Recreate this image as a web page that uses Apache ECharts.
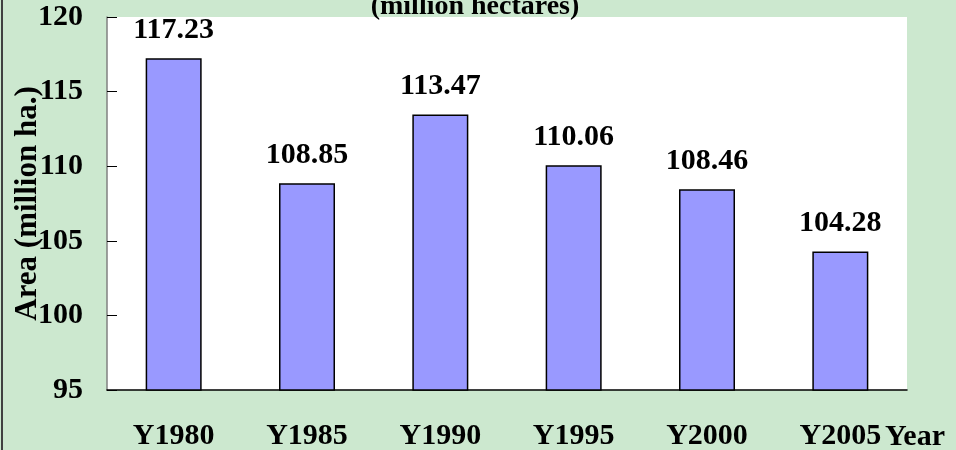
<!DOCTYPE html>
<html><head><meta charset="utf-8">
<script src="https://cdn.jsdelivr.net/npm/echarts@6/dist/echarts.min.js"></script>
<style>html,body{margin:0;padding:0;}#c{width:956px;height:450px;}</style>
</head><body><div id="c"></div>
<script>
const categories = ['Y1980','Y1985','Y1990','Y1995','Y2000','Y2005'];
const areaValues = [117.23, 108.85, 113.47, 110.06, 108.46, 104.28];
const titleText = '(million hectares)';
const yAxisName = 'Area (million ha.)';
const xAxisName = 'Year';

const FONT = '"Liberation Serif","Times New Roman",serif';
const chart = echarts.init(document.getElementById('c'), null, {renderer:'canvas'});
chart.setOption({
  backgroundColor: '#CCE8CF',
  animation: false,
  grid: {left: 107, top: 17, right: 49, bottom: 60, show: true, backgroundColor: '#FFFFFF', borderWidth: 0,
    containLabel: false, outerBoundsMode: 'none'},
  graphic: [
    {type:'rect', left: 1, top: 0, shape:{width:2, height:450}, style:{fill:'#404040'}},
    {type:'text', x: 475, y: 7, style:{text: titleText, font: 'bold 28px ' + FONT, fill:'#000', textAlign:'center', textVerticalAlign:'middle'}},
    {type:'text', x: 885, y: 437, style:{text: xAxisName, font: 'bold 30px ' + FONT, fill:'#000', textAlign:'left', textVerticalAlign:'middle'}}
  ],
  xAxis: {
    type: 'category',
    data: categories,
    boundaryGap: true,
    axisLine: {lineStyle:{color:'#000', width:1.5}},
    axisTick: {inside:true, length:10, lineStyle:{color:'#000'}},
    axisLabel: {margin: 31, color:'#000', fontFamily: FONT, fontWeight:'bold', fontSize: 30},
    splitLine: {show:false}
  },
  yAxis: {
    type: 'value',
    min: 95, max: 120, interval: 5,
    name: yAxisName,
    nameLocation: 'middle',
    nameGap: 64,
    nameMoveOverlap: false,
    nameTextStyle: {color:'#000', fontFamily: FONT, fontWeight:'bold', fontSize: 31},
    axisLine: {show:true, lineStyle:{color:'#808080', width:1.5}},
    axisTick: {show:true, inside:true, length:10, lineStyle:{color:'#000'}},
    axisLabel: {margin: 24, color:'#000', fontFamily: FONT, fontWeight:'bold', fontSize: 30},
    splitLine: {show:false}
  },
  series: [{
    type: 'bar',
    data: areaValues,
    barWidth: 56,
    itemStyle: {color:'#9999FF', borderColor:'#000', borderWidth:1.5},
    label: {show:true, position:'top', distance: 13, color:'#000', fontFamily: FONT, fontWeight:'bold', fontSize: 30,
      formatter: p => p.value.toFixed(2)}
  }]
});
</script></body></html>
